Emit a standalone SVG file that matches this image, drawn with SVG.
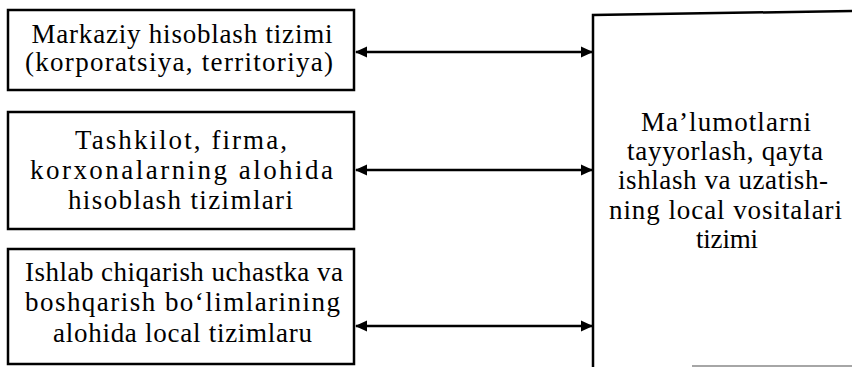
<svg xmlns="http://www.w3.org/2000/svg" width="852" height="367" viewBox="0 0 852 367">
<defs>
<marker id="ah" viewBox="0 0 12 12" refX="11" refY="6" markerWidth="12" markerHeight="12" markerUnits="userSpaceOnUse" orient="auto-start-reverse">
<path d="M0,0.5 L12,6 L0,11.5 Z" fill="#000"/>
</marker>
<style>
.box{fill:#fff;stroke:#000;stroke-width:2.5}
.t{font-family:"Liberation Serif","Times New Roman",serif;font-size:27px;fill:#000;text-anchor:middle}
.c{stroke:#000;stroke-width:2.5;fill:none}
</style>
</defs>
<rect width="852" height="367" fill="#fff"/>
<g id="node-main">
<path class="c" d="M852,11 L593,15 L593,367"/>
<line x1="692" y1="366" x2="852" y2="366" stroke="#888" stroke-width="1.5"/>
<text class="t" x="726" y="131" textLength="170" lengthAdjust="spacing">Ma’lumotlarni</text>
<text class="t" x="725" y="160" textLength="196" lengthAdjust="spacing">tayyorlash, qayta</text>
<text class="t" x="723" y="189" textLength="210" lengthAdjust="spacing">ishlash va uzatish-</text>
<text class="t" x="725.5" y="218.5" textLength="233" lengthAdjust="spacing">ning local vositalari</text>
<text class="t" x="727" y="248" textLength="62" lengthAdjust="spacing">tizimi</text>
</g>
<g id="node-1">
<rect class="box" x="8" y="10" width="346" height="80"/>
<text class="t" x="182" y="43" textLength="301" lengthAdjust="spacing">Markaziy hisoblash tizimi</text>
<text class="t" x="179" y="71" textLength="308" lengthAdjust="spacing">(korporatsiya, territoriya)</text>
</g>
<g id="node-2">
<rect class="box" x="8" y="112" width="346" height="117"/>
<text class="t" x="181" y="149" textLength="212" lengthAdjust="spacing">Tashkilot, firma,</text>
<text class="t" x="181.5" y="179" textLength="303" lengthAdjust="spacing">korxonalarning alohida</text>
<text class="t" x="180.5" y="209" textLength="225" lengthAdjust="spacing">hisoblash tizimlari</text>
</g>
<g id="node-3">
<rect class="box" x="8" y="249" width="346" height="115"/>
<text class="t" x="184" y="281" textLength="318" lengthAdjust="spacing">Ishlab chiqarish uchastka va</text>
<text class="t" x="182.5" y="311" textLength="315" lengthAdjust="spacing">boshqarish  bo‘limlarining</text>
<text class="t" x="182.5" y="342" textLength="259" lengthAdjust="spacing">alohida local tizimlaru</text>
</g>
<g id="connectors">
<line class="c" x1="356" y1="52" x2="592" y2="52" marker-start="url(#ah)" marker-end="url(#ah)"/>
<line class="c" x1="356" y1="170" x2="592" y2="170" marker-start="url(#ah)" marker-end="url(#ah)"/>
<line class="c" x1="356" y1="326" x2="592" y2="326" marker-start="url(#ah)" marker-end="url(#ah)"/>
</g>
</svg>
